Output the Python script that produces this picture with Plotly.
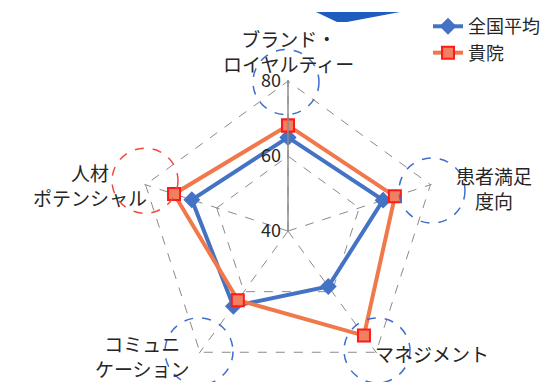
import plotly.graph_objects as go

# page body has an 8px margin, so the figure starts at (8, 8) on screen
OFF = 8
W, H = 553 - OFF, 382 - OFF

categories = ["ブランド・ロイヤルティー", "患者満足度向", "マネジメント", "コミュニケーション", "人材ポテンシャル"]
cat_labels = ["ブランド・<br>ロイヤルティー", "患者満足<br>度向", "マネジメント", "コミュニ<br>ケーション", "人材<br>ポテンシャル"]
national_avg = [65, 66.7, 58.3, 64.8, 67]
our_hospital = [68.2, 70, 74.5, 62.8, 72]
radial_ticks = [40, 60, 80]


def px(x):
    return (x - OFF) / W


def py(y):
    return 1 - (y - OFF) / H


def closed(vals):
    return list(vals) + [vals[0]]


fig = go.Figure()
fig.add_trace(go.Scatterpolar(
    r=closed(national_avg), theta=closed(categories), name="全国平均",
    mode="lines+markers",
    line=dict(color="#4472C4", width=4),
    marker=dict(symbol="diamond", size=13, color="#4472C4"),
))
fig.add_trace(go.Scatterpolar(
    r=closed(our_hospital), theta=closed(categories), name="貴院",
    mode="lines+markers",
    line=dict(color="#F0784A", width=4),
    marker=dict(symbol="square", size=12, color="#F08060", line=dict(color="#FF1A1A", width=2)),
))

# category labels placed like the original
label_pos = [(288, 47), (494, 185), (432, 353), (142, 356), (90, 182)]
for txt, (x, y) in zip(cat_labels, label_pos):
    fig.add_annotation(x=px(x), y=py(y), xref="paper", yref="paper", text=txt,
                       showarrow=False, align="center", xanchor="center", yanchor="middle",
                       font=dict(size=19, color="#262626"))

# dashed highlight circles
circles = [(286, 78, 33, "#3F6FCC"), (432, 188, 33, "#3F6FCC"), (145, 178, 33, "#F04A3A"),
           (199, 351, 34, "#3F6FCC"), (377, 350, 33, "#3F6FCC")]
shapes = []
for cx, cy, r, col in circles:
    shapes.append(dict(type="circle", xref="paper", yref="paper",
                       x0=px(cx - r), x1=px(cx + r), y0=py(cy + r), y1=py(cy - r),
                       line=dict(color=col, width=1.5, dash="dash")))
# blue banner piece at the top
shapes.append(dict(type="path", xref="paper", yref="paper",
                   path=f"M {px(316)},{py(7)} L {px(337)},{py(17)} L {px(347)},{py(17)} L {px(400)},{py(7)} Z",
                   fillcolor="#1F5CC0", line=dict(width=0)))

cx, cy, R = 288, 229, 154
fig.update_layout(
    width=W, height=H,
    margin=dict(l=0, r=0, t=0, b=0),
    paper_bgcolor="white",
    font=dict(family="Noto Sans CJK JP", size=18, color="#303030"),
    shapes=shapes,
    showlegend=True,
    legend=dict(x=px(428), y=py(3), xanchor="left", yanchor="top",
                font=dict(size=18, color="#262626"), itemwidth=30, tracegroupgap=0,
                bgcolor="rgba(0,0,0,0)"),
    polar=dict(
        domain=dict(x=[px(cx - R), px(cx + R)], y=[0, py(cy - R + 1)]),
        bgcolor="white",
        gridshape="linear",
        radialaxis=dict(range=[40, 80.3], tickvals=radial_ticks, angle=90, tickangle=90,
                        side="counterclockwise", ticksuffix="\u00a0\u00a0\u00a0",
                        showline=True, linecolor="#8C8C8C", linewidth=1.5,
                        gridcolor="#8A8A8A", griddash="dash", gridwidth=1.3,
                        ticks="", tickfont=dict(size=18, color="#262626")),
        angularaxis=dict(direction="clockwise", rotation=90, showticklabels=False,
                         ticks="", showline=False, gridcolor="#8A8A8A", griddash="dash",
                         gridwidth=1.3,
                         categoryorder="array", categoryarray=categories),
    ),
)

fig.write_html("out.html")
